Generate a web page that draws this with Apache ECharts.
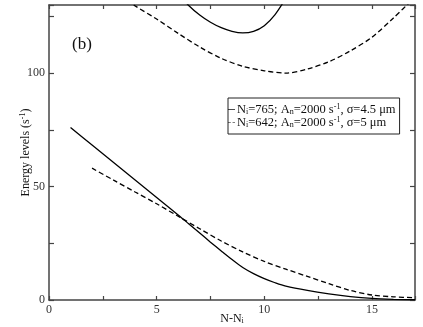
<!DOCTYPE html>
<html><head><meta charset="utf-8">
<script src="https://cdn.jsdelivr.net/npm/echarts@6/dist/echarts.min.js"></script>
<style>html,body{margin:0;padding:0;background:#fff}#c{width:423px;height:327px}</style>
</head><body><div id="c"></div>
<script>
// Lower solid branch (Ni=765)
const xSolidLow = [1,2,3,4,5,6,6.5,7,7.5,8,8.5,9,9.5,10,10.5,11,12,13,14,15,16,17];
const ySolidLow = [76,68.3,60.6,52.9,45.2,37.5,33.5,29.5,25.5,21.6,17.8,14.3,11.6,9.4,7.6,6.1,4.2,2.7,1.5,0.7,0.3,0.1];
// Upper solid branch
const xSolidUp = [6,6.5,7,7.5,8,8.5,9,9.5,10,10.5,11];
const ySolidUp = [135,129.7,125.6,122.4,120.0,118.4,117.7,118.4,120.9,125.8,133];
// Lower dashed branch (Ni=642)
const xDashLow = [2,3,4,5,6,7,8,9,10,11,12,13,14,15,16,17];
const yDashLow = [58.1,52.8,47.6,42.4,36.9,31.4,26.0,21.2,17.0,13.6,10.4,7.2,4.2,2.2,1.4,1.0];
// Upper dashed branch
const xDashUp = [3,4,5,6,7,8,9,10,11,12,13,14,15,16,17];
const yDashUp = [136,129.6,123.8,117.5,111.5,106.5,103,101,100,101.8,105,109.8,115.8,124.3,133.5];

const nameSolid = 'Ni=765';
const nameDash = 'Ni=642';
const legendText = {};
legendText[nameSolid] = '{a|N}{sub|i}{a|=765; A}{sub|n}{a|=2000 s}{sup|-1}{a|, σ=4.5 μm}';
legendText[nameDash] = '{a|N}{sub|i}{a|=642; A}{sub|n}{a|=2000 s}{sup|-1}{a|, σ=5 μm}';

const pair = (xs, ys) => xs.map((x, i) => [x, ys[i]]);
const FONT = 'Liberation Serif';
const AX = '#444';
const mkRich = (fs) => ({
  a: {fontFamily: FONT, fontSize: fs, color: '#111', lineHeight: 13},
  sub: {fontFamily: FONT, fontSize: 8, color: '#111', verticalAlign: 'bottom', lineHeight: 13, padding: [5,0,0,0]},
  sup: {fontFamily: FONT, fontSize: 8, color: '#111', verticalAlign: 'top', lineHeight: 13, padding: [0,0,5,0]}
});

const baseX = {
  type: 'value', min: 0, max: 17, interval: 2.5,
  axisLine: {show: true, onZero: false, lineStyle: {color: AX, width: 1.5}},
  axisTick: {show: true, inside: true, length: 4, lineStyle: {color: AX, width: 1.2}},
  splitLine: {show: false}
};
const baseY = {
  type: 'value', min: 0, max: 130, interval: 25,
  axisLine: {show: true, onZero: false, lineStyle: {color: AX, width: 1.5}},
  axisTick: {show: true, inside: true, length: 5, lineStyle: {color: AX, width: 1.2}},
  splitLine: {show: false}
};

const lineSeries = (name, data, dashed) => ({
  name: name, type: 'line', data: data, showSymbol: false, symbol: 'none',
  smooth: 0.3, clip: true, silent: true, animation: false,
  lineStyle: {color: '#000', width: 1.3, type: dashed ? [5,3] : 'solid'},
  itemStyle: {color: '#000'}
});

const chart = echarts.init(document.getElementById('c'), null, {renderer: 'canvas'});
chart.setOption({
  animation: false,
  backgroundColor: '#fff',
  grid: {left: 49, right: 8, top: 5, bottom: 27, containLabel: false, outerBoundsMode: 'none'},
  title: {text: '(b)', left: 67, top: 31, textStyle: {fontFamily: FONT, fontSize: 17, fontWeight: 'normal', color: '#111'}},
  legend: {
    data: [
      {name: nameSolid, icon: 'path://M0,0 L10,0 L10,1 L0,1 Z'},
      {name: nameDash, icon: 'path://M0,0 L4,0 L4,1 L0,1 Z M6.5,0 L10,0 L10,1 L6.5,1 Z'}
    ],
    orient: 'vertical', left: 228, top: 98,
    backgroundColor: '#fff', borderColor: '#222', borderWidth: 1,
    padding: [5, 4, 5, 0], itemGap: 0, itemWidth: 7, itemHeight: 1.3,
    itemStyle: {color: '#000'},
    textStyle: {fontFamily: FONT, fontSize: 12.5, color: '#111', rich: mkRich(12.5), padding: [0,0,0,-3]},
    formatter: n => legendText[n]
  },
  xAxis: [
    Object.assign({}, baseX, {
      position: 'bottom',
      name: '{a|N-N}{sub|i}', nameLocation: 'middle', nameGap: 12, nameMoveOverlap: false,
      nameTextStyle: {rich: mkRich(12)},
      axisLabel: {fontFamily: FONT, fontSize: 12, color: '#333', margin: 4,
        formatter: v => (Math.abs(v % 5) < 1e-9 ? String(v) : '')}
    }),
    Object.assign({}, baseX, {position: 'top', axisLabel: {show: false}})
  ],
  yAxis: [
    Object.assign({}, baseY, {
      position: 'left',
      name: '{a|Energy levels (s}{sup|-1}{a|)}', nameLocation: 'middle', nameGap: 17, nameMoveOverlap: false,
      nameTextStyle: {rich: mkRich(12)},
      axisLabel: {fontFamily: FONT, fontSize: 12, color: '#333', margin: 4,
        formatter: v => (Math.abs(v % 50) < 1e-9 ? String(v) : '')}
    }),
    Object.assign({}, baseY, {position: 'right', axisLabel: {show: false}})
  ],
  series: [
    lineSeries(nameSolid, pair(xSolidLow, ySolidLow), false),
    lineSeries(nameSolid, pair(xSolidUp, ySolidUp), false),
    lineSeries(nameDash, pair(xDashLow, yDashLow), true),
    lineSeries(nameDash, pair(xDashUp, yDashUp), true),
    {type: 'line', name: '_frame', xAxisIndex: 1, yAxisIndex: 1, data: [], symbol: 'none', silent: true}
  ]
});
</script></body></html>
